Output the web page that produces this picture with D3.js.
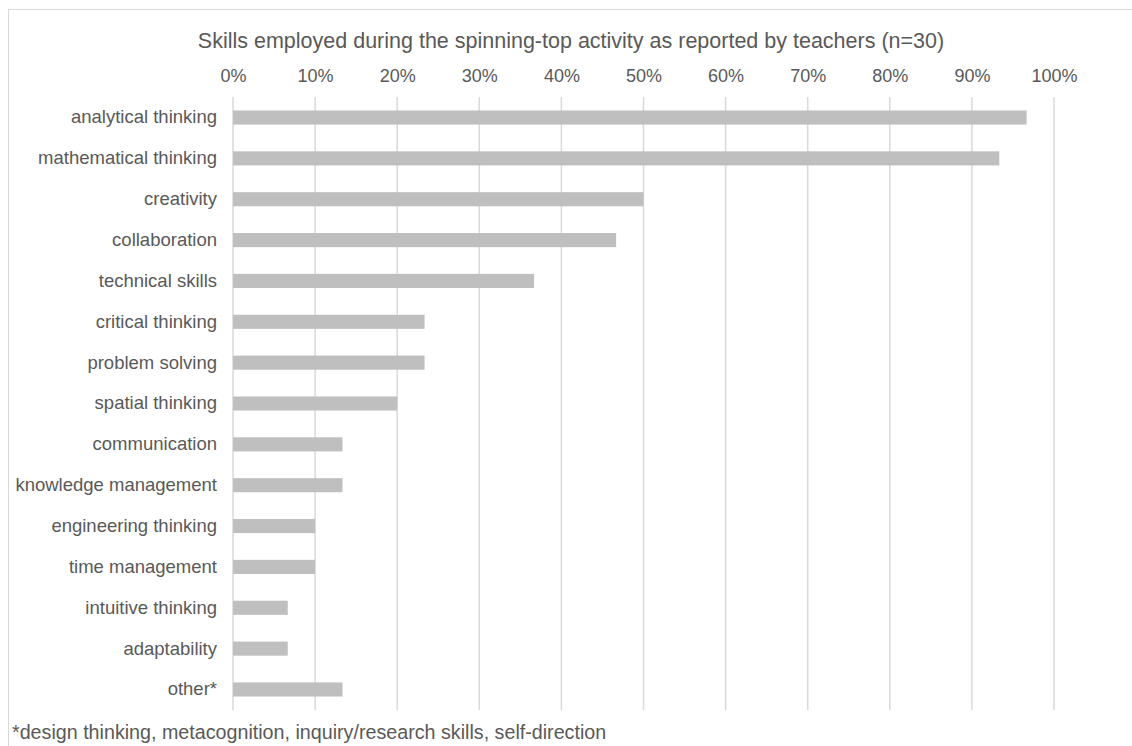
<!DOCTYPE html>
<html>
<head>
<meta charset="utf-8">
<script src="https://cdn.jsdelivr.net/npm/d3@7"></script>
<style>
  body { margin: 0; background: #fff; }
  svg { display: block; font-family: "Liberation Sans", Arial, sans-serif; }
  .grid line { stroke: #d9d9d9; stroke-width: 1.5; }
  text { fill: #595959; }
</style>
</head>
<body>
<svg width="1132" height="746"></svg>
<script>
var skills = ["analytical thinking", "mathematical thinking", "creativity", "collaboration",
  "technical skills", "critical thinking", "problem solving", "spatial thinking",
  "communication", "knowledge management", "engineering thinking", "time management",
  "intuitive thinking", "adaptability ", "other*"];
// share of teachers (n=30)
var shares = [29/30, 28/30, 15/30, 14/30, 11/30, 7/30, 7/30, 6/30, 4/30, 4/30, 3/30, 3/30, 2/30, 2/30, 4/30];
var ticks = [0, 0.1, 0.2, 0.3, 0.4, 0.5, 0.6, 0.7, 0.8, 0.9, 1];

var title = "Skills employed during the spinning-top activity as reported by teachers (n=30)";
var footnote = "*design thinking, metacognition, inquiry/research skills, self-direction";

var svg = d3.select("svg"),
    margin = {top: 97, left: 233, right: 78, bottom: 36},
    width = 1132 - margin.left - margin.right,
    height = 746 - margin.top - margin.bottom;

// chart frame (cropped on right/bottom)
svg.append("line").attr("x1", 8).attr("x2", 1132).attr("y1", 9.5).attr("y2", 9.5)
    .attr("stroke", "#d9d9d9");
svg.append("line").attr("x1", 8.5).attr("x2", 8.5).attr("y1", 9).attr("y2", 746)
    .attr("stroke", "#d9d9d9");

var x = d3.scaleLinear().domain([0, 1]).range([0, width]);
var y = d3.scaleBand().domain(skills).range([0, height]).paddingInner(0.655).paddingOuter(0.33);

var g = svg.append("g").attr("transform", "translate(" + margin.left + "," + margin.top + ")");

g.append("g").attr("class", "grid")
  .selectAll("line").data(ticks).enter().append("line")
    .attr("x1", d => x(d)).attr("x2", d => x(d))
    .attr("y1", 0).attr("y2", height);

var xAxis = d3.axisTop(x).tickValues(ticks).tickFormat(d3.format(".0%")).tickSize(0).tickPadding(15);
var xg = g.append("g").call(xAxis);
xg.select(".domain").remove();
xg.selectAll("text").attr("font-size", 18).attr("fill", "#595959");

var yAxis = d3.axisLeft(y).tickSize(0).tickPadding(16);
var yg = g.append("g").call(yAxis);
yg.select(".domain").remove();
yg.selectAll("text").attr("font-size", 18.5).attr("fill", "#595959");

g.selectAll(".bar").data(skills).enter().append("rect")
    .attr("class", "bar")
    .attr("x", 0)
    .attr("y", d => y(d))
    .attr("width", (d, i) => x(shares[i]))
    .attr("height", y.bandwidth())
    .attr("fill", "#bfbfbf");

svg.append("text").attr("x", 571).attr("y", 48).attr("text-anchor", "middle")
    .attr("font-size", 21.5).text(title);

svg.append("text").attr("x", 12).attr("y", 739).attr("font-size", 19.7).text(footnote);
</script>
</body>
</html>
